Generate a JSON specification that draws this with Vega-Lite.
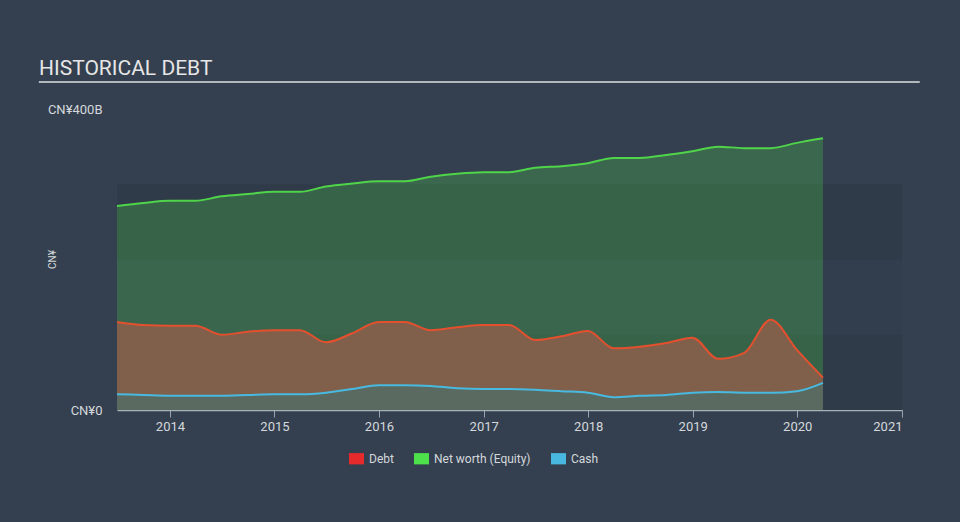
{
  "$schema": "https://vega.github.io/schema/vega-lite/v6.json",
  "autosize": {"type": "none"},
  "width": 785,
  "height": 301,
  "padding": {"left": 117, "top": 109, "right": 58, "bottom": 112},
  "background": "#34404f",
  "config": {
    "font": "Roboto",
    "view": {"stroke": null},
    "axisX": {"labelColor": "#d4d8dc", "labelFontSize": 13, "tickColor": "#9aa3ad", "tickSize": 7, "domainColor": "#a9b0b8", "domainWidth": 1.5, "grid": false, "labelPadding": 3},
    "axisY": {"labelColor": "#d4d8dc", "labelFontSize": 13, "ticks": false, "domain": false, "grid": false, "labelPadding": 15, "titleColor": "#d4d8dc", "titleFontSize": 10, "titleFontWeight": "normal"}
  },
  "title": {"text": "HISTORICAL DEBT", "anchor": "start", "frame": "group", "dx": -78, "dy": 21, "fontSize": 21, "fontWeight": "normal", "color": "#e6e6e6", "font": "Roboto", "baseline": "alphabetic", "offset": 6},
  "resolve": {"scale": {"color": "independent"}},
  "datasets": {
    "bands": [
      {"lo": 0, "hi": 100, "shade": "dark"},
      {"lo": 100, "hi": 200, "shade": "light"},
      {"lo": 200, "hi": 300, "shade": "dark"}
    ],
    "series": [
      {"date": "2013-06-30", "series": "Net worth (Equity)", "value": 271},
      {"date": "2013-09-30", "series": "Net worth (Equity)", "value": 275},
      {"date": "2013-12-31", "series": "Net worth (Equity)", "value": 278},
      {"date": "2014-03-31", "series": "Net worth (Equity)", "value": 278},
      {"date": "2014-06-30", "series": "Net worth (Equity)", "value": 284},
      {"date": "2014-09-30", "series": "Net worth (Equity)", "value": 287},
      {"date": "2014-12-31", "series": "Net worth (Equity)", "value": 290},
      {"date": "2015-03-31", "series": "Net worth (Equity)", "value": 290},
      {"date": "2015-06-30", "series": "Net worth (Equity)", "value": 297},
      {"date": "2015-09-30", "series": "Net worth (Equity)", "value": 301},
      {"date": "2015-12-31", "series": "Net worth (Equity)", "value": 304},
      {"date": "2016-03-31", "series": "Net worth (Equity)", "value": 304},
      {"date": "2016-06-30", "series": "Net worth (Equity)", "value": 310},
      {"date": "2016-09-30", "series": "Net worth (Equity)", "value": 314},
      {"date": "2016-12-31", "series": "Net worth (Equity)", "value": 316},
      {"date": "2017-03-31", "series": "Net worth (Equity)", "value": 316},
      {"date": "2017-06-30", "series": "Net worth (Equity)", "value": 322},
      {"date": "2017-09-30", "series": "Net worth (Equity)", "value": 324},
      {"date": "2017-12-31", "series": "Net worth (Equity)", "value": 328},
      {"date": "2018-03-31", "series": "Net worth (Equity)", "value": 335},
      {"date": "2018-06-30", "series": "Net worth (Equity)", "value": 335},
      {"date": "2018-09-30", "series": "Net worth (Equity)", "value": 339},
      {"date": "2018-12-31", "series": "Net worth (Equity)", "value": 344},
      {"date": "2019-03-31", "series": "Net worth (Equity)", "value": 350},
      {"date": "2019-06-30", "series": "Net worth (Equity)", "value": 348},
      {"date": "2019-09-30", "series": "Net worth (Equity)", "value": 348},
      {"date": "2019-12-31", "series": "Net worth (Equity)", "value": 355},
      {"date": "2020-03-31", "series": "Net worth (Equity)", "value": 361},
      {"date": "2013-06-30", "series": "Debt", "value": 117},
      {"date": "2013-09-30", "series": "Debt", "value": 113},
      {"date": "2013-12-31", "series": "Debt", "value": 112},
      {"date": "2014-03-31", "series": "Debt", "value": 112},
      {"date": "2014-06-30", "series": "Debt", "value": 100},
      {"date": "2014-09-30", "series": "Debt", "value": 104},
      {"date": "2014-12-31", "series": "Debt", "value": 106},
      {"date": "2015-03-31", "series": "Debt", "value": 106},
      {"date": "2015-06-30", "series": "Debt", "value": 90},
      {"date": "2015-09-30", "series": "Debt", "value": 102},
      {"date": "2015-12-31", "series": "Debt", "value": 117},
      {"date": "2016-03-31", "series": "Debt", "value": 117},
      {"date": "2016-06-30", "series": "Debt", "value": 106},
      {"date": "2016-09-30", "series": "Debt", "value": 110},
      {"date": "2016-12-31", "series": "Debt", "value": 113},
      {"date": "2017-03-31", "series": "Debt", "value": 113},
      {"date": "2017-06-30", "series": "Debt", "value": 93},
      {"date": "2017-09-30", "series": "Debt", "value": 98},
      {"date": "2017-12-31", "series": "Debt", "value": 105},
      {"date": "2018-03-31", "series": "Debt", "value": 82},
      {"date": "2018-06-30", "series": "Debt", "value": 84},
      {"date": "2018-09-30", "series": "Debt", "value": 89},
      {"date": "2018-12-31", "series": "Debt", "value": 96},
      {"date": "2019-03-31", "series": "Debt", "value": 68},
      {"date": "2019-06-30", "series": "Debt", "value": 76},
      {"date": "2019-09-30", "series": "Debt", "value": 120},
      {"date": "2019-12-31", "series": "Debt", "value": 80},
      {"date": "2020-03-31", "series": "Debt", "value": 43},
      {"date": "2013-06-30", "series": "Cash", "value": 21},
      {"date": "2013-09-30", "series": "Cash", "value": 20},
      {"date": "2013-12-31", "series": "Cash", "value": 19},
      {"date": "2014-03-31", "series": "Cash", "value": 19},
      {"date": "2014-06-30", "series": "Cash", "value": 19},
      {"date": "2014-09-30", "series": "Cash", "value": 20},
      {"date": "2014-12-31", "series": "Cash", "value": 21},
      {"date": "2015-03-31", "series": "Cash", "value": 21},
      {"date": "2015-06-30", "series": "Cash", "value": 23},
      {"date": "2015-09-30", "series": "Cash", "value": 28},
      {"date": "2015-12-31", "series": "Cash", "value": 33},
      {"date": "2016-03-31", "series": "Cash", "value": 33},
      {"date": "2016-06-30", "series": "Cash", "value": 32},
      {"date": "2016-09-30", "series": "Cash", "value": 29},
      {"date": "2016-12-31", "series": "Cash", "value": 28},
      {"date": "2017-03-31", "series": "Cash", "value": 28},
      {"date": "2017-06-30", "series": "Cash", "value": 27},
      {"date": "2017-09-30", "series": "Cash", "value": 25},
      {"date": "2017-12-31", "series": "Cash", "value": 23},
      {"date": "2018-03-31", "series": "Cash", "value": 17},
      {"date": "2018-06-30", "series": "Cash", "value": 19},
      {"date": "2018-09-30", "series": "Cash", "value": 20},
      {"date": "2018-12-31", "series": "Cash", "value": 23},
      {"date": "2019-03-31", "series": "Cash", "value": 24},
      {"date": "2019-06-30", "series": "Cash", "value": 23},
      {"date": "2019-09-30", "series": "Cash", "value": 23},
      {"date": "2019-12-31", "series": "Cash", "value": 25},
      {"date": "2020-03-31", "series": "Cash", "value": 36}
    ]
  },
  "layer": [
    {
      "data": {"name": "bands"},
      "mark": {"type": "rect"},
      "encoding": {
        "y": {"field": "lo", "type": "quantitative", "title": "CN¥", "scale": {"domain": [0, 400]}, "axis": {"values": [0, 400], "labelExpr": "datum.value == 0 ? 'CN¥0' : 'CN¥' + datum.value + 'B'", "titleX": -60, "titleY": 150}},
        "y2": {"field": "hi"},
        "fill": {"field": "shade", "type": "nominal", "scale": {"domain": ["dark", "light"], "range": ["#2f3b49", "#323e4d"]}, "legend": null}
      }
    },
    {
      "data": {"name": "series"},
      "transform": [{"filter": "datum.series == 'Net worth (Equity)'"}],
      "mark": {"type": "area", "interpolate": "monotone", "fill": "#4fd24a", "fillOpacity": 0.27},
      "encoding": {
        "x": {"field": "date", "type": "temporal", "title": null, "scale": {"type": "utc", "domain": ["2013-06-30", "2021-01-01"]}, "axis": {"tickCount": "year", "format": "%Y", "formatType": "utc"}},
        "y": {"field": "value", "type": "quantitative", "title": "CN¥"}
      }
    },
    {
      "data": {"name": "series"},
      "transform": [{"filter": "datum.series == 'Debt'"}],
      "mark": {"type": "area", "interpolate": "monotone", "fill": "#80604a"},
      "encoding": {
        "x": {"field": "date", "type": "temporal", "title": null},
        "y": {"field": "value", "type": "quantitative", "title": "CN¥"}
      }
    },
    {
      "data": {"name": "series"},
      "transform": [{"filter": "datum.series == 'Cash'"}],
      "mark": {"type": "area", "interpolate": "monotone", "fill": "#5b6a60"},
      "encoding": {
        "x": {"field": "date", "type": "temporal", "title": null},
        "y": {"field": "value", "type": "quantitative", "title": "CN¥"}
      }
    },
    {
      "data": {"name": "series"},
      "mark": {"type": "line", "interpolate": "monotone", "strokeWidth": 2},
      "encoding": {
        "x": {"field": "date", "type": "temporal", "title": null},
        "y": {"field": "value", "type": "quantitative", "title": "CN¥"},
        "stroke": {
          "field": "series", "type": "nominal",
          "scale": {"domain": ["Debt", "Net worth (Equity)", "Cash"], "range": ["#e4502e", "#4fd44a", "#48b9e0"]},
          "legend": {
            "orient": "none", "legendX": 232, "legendY": 342, "direction": "horizontal", "title": null,
            "symbolType": "M-1,-0.75H1V0.75H-1Z", "symbolSize": 225, "symbolStrokeWidth": 0,
            "labelColor": "#d4d8dc", "labelFontSize": 12, "columnPadding": 20, "labelOffset": 5,
            "encode": {"symbols": {"update": {"fill": {"signal": "datum.value === 'Debt' ? '#e62a2b' : datum.value === 'Cash' ? '#48b8e0' : '#4de24b'"}, "opacity": {"value": 1}}}}
          }
        }
      }
    },
    {
      "data": {"values": [{}]},
      "mark": {"type": "rule", "color": "#b3b8be", "strokeWidth": 2, "clip": false},
      "encoding": {
        "x": {"datum": {"year": 2012, "month": 9, "date": 30, "utc": true}, "type": "temporal"},
        "x2": {"datum": {"year": 2021, "month": 3, "date": 4, "utc": true}},
        "y": {"datum": 436, "type": "quantitative"}
      }
    }
  ]
}
